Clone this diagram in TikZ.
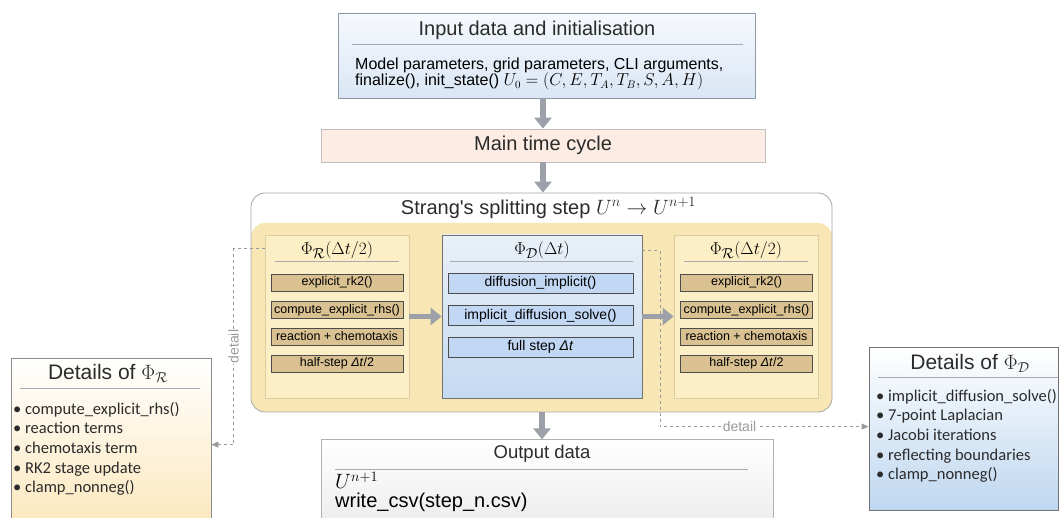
\documentclass[tikz,border=0pt]{standalone}
\usepackage{fontspec}
\setmainfont{Liberation Sans}
\newfontfamily\calfont{Carlito}
\usetikzlibrary{arrows.meta,calc}

\definecolor{flowgray}{HTML}{9CA1A9}
\definecolor{linegray}{HTML}{A8ABB0}
\definecolor{boxborder}{HTML}{8E99A6}
\definecolor{textdark}{HTML}{2B2B2B}
\definecolor{peach}{HTML}{FCECE4}
\definecolor{paleyellow}{HTML}{FCEFC6}
\definecolor{tanborder}{HTML}{DCCCA2}
\definecolor{tan}{HTML}{D9C191}
\definecolor{subblue}{HTML}{C2D7F4}
\definecolor{dashgray}{HTML}{9A9A9A}
\definecolor{inputtop}{HTML}{F6F9FD}
\definecolor{inputbottom}{HTML}{DAE6F5}
\definecolor{stepedge}{HTML}{F8E7B4}
\definecolor{stepmid}{HTML}{DCE3E3}
\definecolor{difftop}{HTML}{E9F0F7}
\definecolor{diffbottom}{HTML}{C4DAF1}
\definecolor{detyellow}{HTML}{FBE3B0}
\definecolor{detblue}{HTML}{BED7F0}

\tikzset{
  box/.style={draw=boxborder, line width=0.8pt, inner sep=0pt},
  heading/.style={text=textdark, font=\fontsize{20}{24}\selectfont, inner sep=0pt},
  sepline/.style={draw=linegray, line width=0.8pt},
  flowarrow/.style={draw=flowgray, line width=5.5pt, -{Triangle[length=11pt,width=17pt]}},
  tanbox/.style={draw=black!70, fill=tan, line width=0.8pt, minimum width=132pt, minimum height=17pt,
    inner sep=0pt, font=\fontsize{12.5}{14}\selectfont},
  bluebox/.style={draw=black!70, fill=subblue, line width=0.8pt, minimum width=185pt, minimum height=20pt,
    inner sep=0pt, font=\fontsize{14}{16}\selectfont},
  phititle/.style={inner sep=0pt, font=\fontsize{19}{22}\selectfont},
  detailline/.style={draw=dashgray, dashed, line width=0.8pt, -{Triangle[length=7pt,width=6pt]}},
  detaillabel/.style={fill=white, text=dashgray, inner sep=1pt, font=\fontsize{14}{16}\selectfont},
  bullets/.style={anchor=north west, align=left, inner sep=0pt, text=textdark,
    font=\calfont\fontsize{16.5}{19.6}\selectfont}
}

\begin{document}
\begin{tikzpicture}[x=1pt, y=1pt]
  \useasboundingbox (0,0) rectangle (1061,-518);
  \clip (0,0) rectangle (1061,-518);

  % Input data
  \node[box, top color=inputtop, bottom color=inputbottom, minimum width=417pt, minimum height=85pt] (input) at (546.5,-55.5) {};
  \node[heading] (inputtitle) at (537,-30) {Input data and initialisation};
  \draw[sepline] (352,-44) -- (743,-44);
  \node[anchor=west, align=left, inner sep=0pt, font=\fontsize{16}{16.5}\selectfont] (inputbody) at (355,-74)
    {Model parameters, grid parameters, CLI arguments,\\finalize(), init\_state() $U_0=(C,E,T_A,T_B,S,A,H)$};

  % Main time cycle
  \node[box, draw=black!25, fill=peach, minimum width=444pt, minimum height=33pt, heading] (main) at (543,-145.5) {Main time cycle};
  \draw[flowarrow] (input.south -| main.north) -- (main.north);

  % Strang splitting step
  \node[box, draw=black!35, fill=white, rounded corners=14pt, minimum width=581pt, minimum height=219pt,
    path picture={\shade[left color=stepedge, middle color=stepmid, right color=stepedge]
      ([yshift=-30pt]path picture bounding box.north west) rectangle (path picture bounding box.south east);}]
    (strang) at (541.5,-302.5) {};
  \node[heading] (strangtitle) at (548.5,-208) {Strang\textquotesingle s splitting step $U^n \to U^{n+1}$};
  \draw[flowarrow] (main.south) -- (main.south |- strang.north);

  % Reaction half-step (left)
  \node[box, draw=tanborder, fill=paleyellow, minimum width=144pt, minimum height=163pt] (phiRL) at (337,-316.5) {};
  \node[phititle] (phiRLt) at (337,-250) {$\Phi_{\mathcal{R}}(\Delta t/2)$};
  \draw[sepline] (275,-261) -- (399,-261);
  \node[tanbox] (rkL) at (337,-282.5) {explicit\_rk2()};
  \node[tanbox] (rhsL) at (337,-310) {compute\_explicit\_rhs()};
  \node[tanbox] (chemL) at (337,-336.5) {reaction + chemotaxis};
  \node[tanbox] (halfL) at (337,-363.5) {half-step \textit{Δt}/2};

  % Diffusion full step
  \node[box, draw=black!55, top color=difftop, bottom color=diffbottom, minimum width=200pt, minimum height=163pt] (phiD) at (542,-316.5) {};
  \node[phititle] (phiDt) at (542,-250) {$\Phi_{\mathcal{D}}(\Delta t)$};
  \draw[sepline] (450,-261) -- (633,-261);
  \node[bluebox] (diffimp) at (540.5,-283) {diffusion\_implicit()};
  \node[bluebox] (diffsolve) at (540.5,-315.5) {implicit\_diffusion\_solve()};
  \node[bluebox] (fullstep) at (540.5,-347) {full step \textit{Δt}};

  % Reaction half-step (right)
  \node[box, draw=tanborder, fill=paleyellow, minimum width=144pt, minimum height=163pt] (phiRR) at (746,-316.5) {};
  \node[phititle] (phiRRt) at (746,-250) {$\Phi_{\mathcal{R}}(\Delta t/2)$};
  \draw[sepline] (684,-261) -- (808,-261);
  \node[tanbox] (rkR) at (746.5,-282.5) {explicit\_rk2()};
  \node[tanbox] (rhsR) at (746.5,-310) {compute\_explicit\_rhs()};
  \node[tanbox] (chemR) at (746.5,-336.5) {reaction + chemotaxis};
  \node[tanbox] (halfR) at (746.5,-363.5) {half-step \textit{Δt}/2};

  \draw[flowarrow] (phiRL.east) -- (phiD.west);
  \draw[flowarrow] (phiD.east) -- (phiRR.west);

  % Output data
  \node[box, draw=black!30, top color=white, bottom color=black!10, minimum width=452pt, minimum height=121pt] (output) at (547,-499.5) {};
  \node[heading, font=\fontsize{18.5}{22}\selectfont] (outputtitle) at (542,-454) {Output data};
  \draw[sepline] (335,-469) -- (748,-469);
  \node[anchor=west, align=left, inner sep=0pt, font=\fontsize{20}{19}\selectfont] (outputbody) at (335,-492)
    {$U^{n+1}$\\write\_csv(step\_n.csv)};
  \draw[flowarrow] (strang.south -| output.north) ++(-5,0) -- ++(0,-27);

  % Details of reaction
  \node[box, draw=black!45, top color=white, bottom color=detyellow, minimum width=200pt, minimum height=202pt] (ldet) at (111,-459) {};
  \node[heading, font=\fontsize{21}{24}\selectfont] (ldett) at (108,-373) {Details of $\Phi_{\mathcal{R}}$};
  \draw[sepline] (20,-388) -- (200,-388);
  \node[bullets] (ldetlist) at (13,-402)
    {• compute\_explicit\_rhs()\\• reaction terms\\• chemotaxis term\\• RK2 stage update\\• clamp\_nonneg()};

  % Details of diffusion
  \node[box, draw=black!55, top color=white, bottom color=detblue, minimum width=189pt, minimum height=163pt] (rdet) at (963.5,-428.5) {};
  \node[heading, font=\fontsize{21}{24}\selectfont] (rdett) at (970,-363) {Details of $\Phi_{\mathcal{D}}$};
  \draw[sepline] (878,-377) -- (1058,-377);
  \node[bullets] (rdetlist) at (876,-389)
    {• implicit\_diffusion\_solve()\\• 7-point Laplacian\\• Jacobi iterations\\• reflecting boundaries\\• clamp\_nonneg()};

  % Detail links
  \draw[detailline] ([yshift=-14pt]phiRL.north west) -- ++(-31,0) coordinate (lbend)
    -- ($(lbend |- ldet.north east)+(0,-87)$) node[midway, detaillabel, rotate=90] (ldetlabel) {detail}
    -- ([yshift=-87pt]ldet.north east);
  \draw[detailline] ([yshift=-16pt]phiD.north east) -- ++(18,0) coordinate (rbend)
    -- ($(rbend |- rdet.north west)+(0,-80)$) coordinate (rcorner)
    -- ([yshift=-80pt]rdet.north west) node[pos=0.38, detaillabel] (rdetlabel) {detail};
\end{tikzpicture}
\end{document}
